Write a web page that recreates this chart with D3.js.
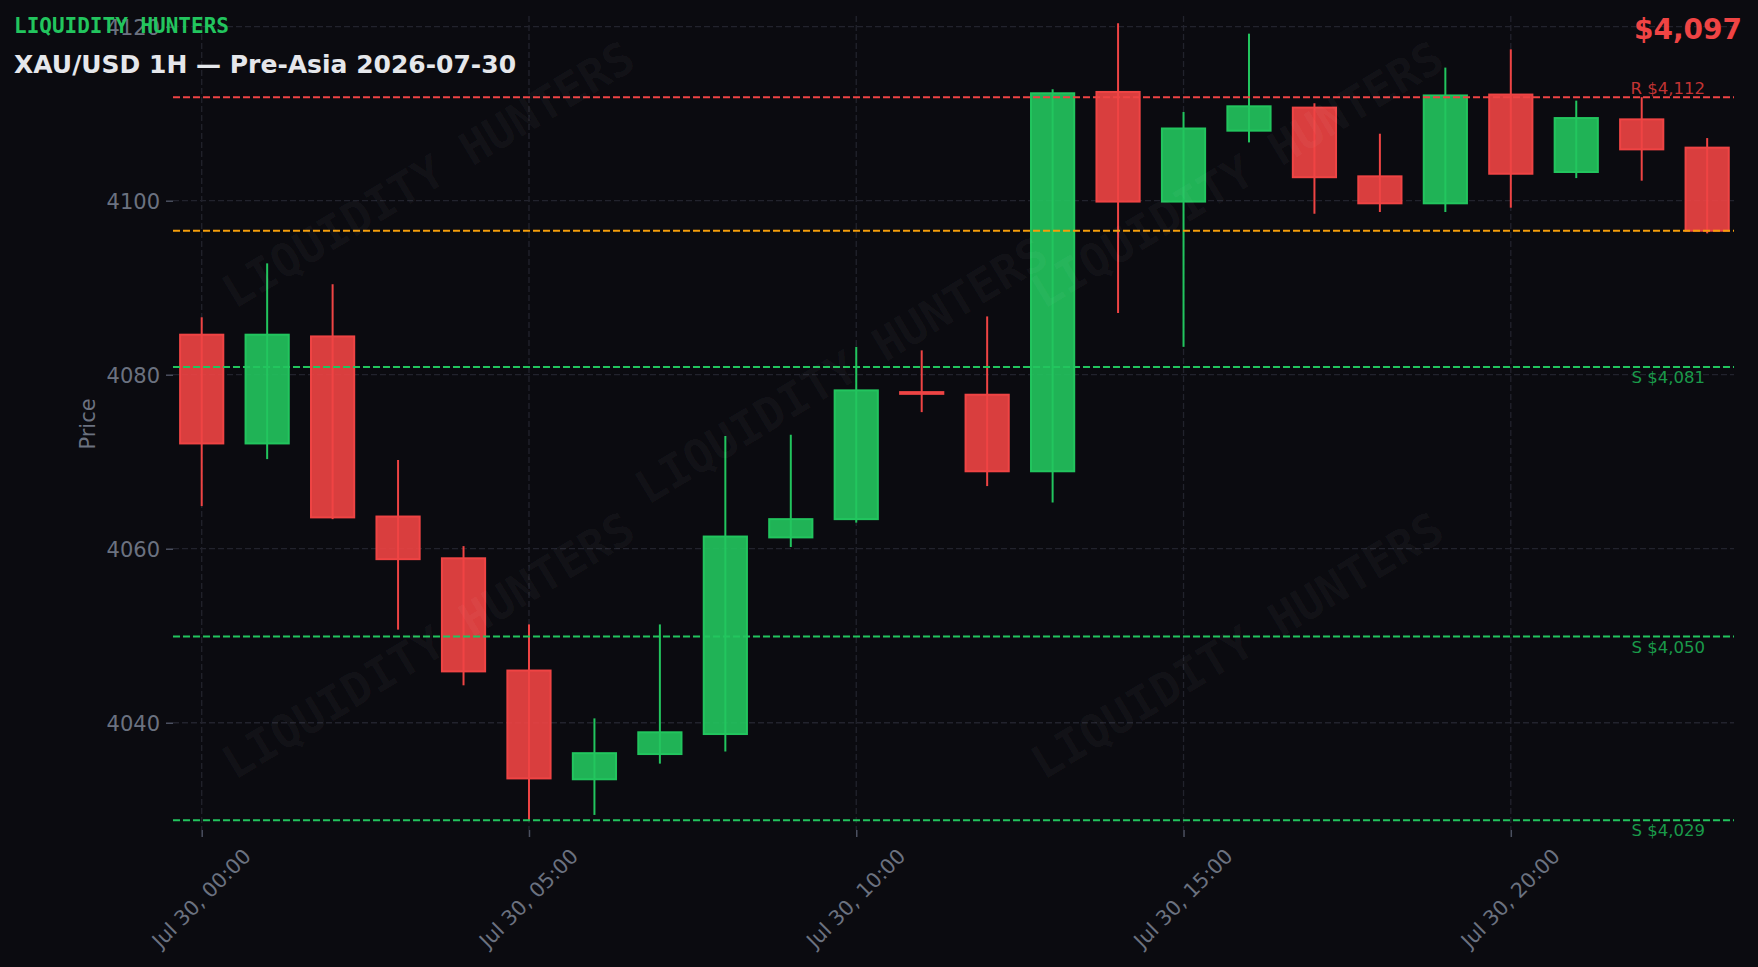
<!DOCTYPE html>
<html><head><meta charset="utf-8">
<script src="https://cdn.jsdelivr.net/npm/d3@7"></script>
<style>html,body{margin:0;padding:0;background:#0b0b10;overflow:hidden;} svg{display:block;}</style>
</head><body><svg id="c" width="1758" height="967"></svg>
<script>
// ---- data ----
const times = ["2026-07-30 00:00","2026-07-30 01:00","2026-07-30 02:00","2026-07-30 03:00","2026-07-30 04:00","2026-07-30 05:00",
  "2026-07-30 06:00","2026-07-30 07:00","2026-07-30 08:00","2026-07-30 09:00","2026-07-30 10:00","2026-07-30 11:00",
  "2026-07-30 12:00","2026-07-30 13:00","2026-07-30 14:00","2026-07-30 15:00","2026-07-30 16:00","2026-07-30 17:00",
  "2026-07-30 18:00","2026-07-30 19:00","2026-07-30 20:00","2026-07-30 21:00","2026-07-30 22:00","2026-07-30 23:00"];
const opens  = [4084.6,4072.1,4084.4,4063.7,4058.9,4046.0,4033.5,4036.4,4038.7,4061.3,4063.4,4078.0,4077.7,4068.9,4112.5,4099.9,4108.05,4110.7,4102.8,4099.7,4112.2,4103.3,4109.35,4106.1];
const highs  = [4086.6,4092.8,4090.4,4070.2,4060.3,4051.3,4040.5,4051.3,4072.95,4073.1,4083.2,4082.8,4086.7,4112.8,4120.4,4110.2,4119.2,4111.2,4107.7,4115.3,4117.4,4111.5,4111.9,4107.2];
const lows   = [4064.9,4070.3,4063.4,4050.7,4044.3,4028.7,4029.4,4035.3,4036.7,4060.2,4063.0,4075.7,4067.2,4065.3,4087.1,4083.2,4106.7,4098.5,4098.7,4098.7,4099.2,4102.6,4102.3,4096.25];
const closes = [4072.1,4084.6,4063.6,4058.8,4045.9,4033.6,4036.5,4038.9,4061.4,4063.4,4078.2,4077.8,4068.9,4112.35,4099.9,4108.3,4110.85,4102.7,4099.7,4112.1,4103.1,4109.5,4105.9,4096.55];
const yTickValues = [4040,4060,4080,4100,4120];
const xTickTimes = ["2026-07-30 00:00","2026-07-30 05:00","2026-07-30 10:00","2026-07-30 15:00","2026-07-30 20:00"];
const levelValues = [4111.9,4080.9,4049.9,4028.8];
const levelLabels = ["R $4,112","S $4,081","S $4,050","S $4,029"];
const levelKinds  = ["R","S","S","S"];
const currentPrice = 4096.55;
const currentLabel = "$4,097";
const titleText = "XAU/USD 1H \u2014 Pre-Asia 2026-07-30";
const brandText = "LIQUIDITY HUNTERS";
const yAxisTitle = "Price";

(function(){
// ---- setup ----
const parse = d3.timeParse("%Y-%m-%d %H:%M");
const H = 3600*1000;
const t0 = parse(times[0]);
const svg = d3.select("#c");
const pL = 173, pR = 1734, pT = 16, pB = 830;
const x = d3.scaleTime().domain([new Date(+t0 - 0.4385*H), new Date(+t0 + 23.41*H)]).range([pL, pR]);
const y = d3.scaleLinear().domain([4027.67, 4121.23]).range([pB, pT]);

const GREEN = "#22c55e", RED = "#ef4444", ORANGE = "#f59e0b", GRID = "#22232d", TICK = "#6b7280";

svg.append("rect").attr("width",1758).attr("height",967).attr("fill","#0b0b10");

// grid
const g = svg.append("g");
g.selectAll(".hg").data(yTickValues).join("line")
  .attr("x1",pL).attr("x2",pR).attr("y1",d=>y(d)).attr("y2",d=>y(d))
  .attr("stroke",GRID).attr("stroke-width",1.3).attr("stroke-dasharray","6,3");
g.selectAll(".vg").data(xTickTimes).join("line")
  .attr("x1",d=>x(parse(d))).attr("x2",d=>x(parse(d))).attr("y1",pT).attr("y2",pB)
  .attr("stroke",GRID).attr("stroke-width",1.3).attr("stroke-dasharray","6,3");

// axes
const yAxis = d3.axisLeft(y).tickValues(yTickValues).tickSize(7).tickPadding(6).tickFormat(d3.format("d"));
const ya = svg.append("g").attr("transform",`translate(${pL},0)`).call(yAxis);
ya.select(".domain").remove();
ya.selectAll(".tick line").attr("stroke","#4b5060").attr("stroke-width",1.5);
ya.selectAll(".tick text").attr("fill",TICK).attr("font-family","DejaVu Sans").attr("font-size",21).attr("dy","0.36em");

const xAxis = d3.axisBottom(x).tickValues(xTickTimes.map(parse)).tickSize(7).tickFormat(d3.timeFormat("%b %d, %H:%M"));
const xa = svg.append("g").attr("transform",`translate(0,${pB})`).call(xAxis);
xa.select(".domain").remove();
xa.selectAll(".tick line").attr("stroke","#4b5060").attr("stroke-width",1.5);
xa.selectAll(".tick text").attr("fill",TICK).attr("font-family","DejaVu Sans").attr("font-size",20.5)
  .attr("text-anchor","middle").attr("y",0).attr("dy","0.36em")
  .attr("transform","translate(-1,68) rotate(-45)");

svg.append("text").attr("transform","translate(95,424) rotate(-90)").attr("text-anchor","middle")
  .attr("fill",TICK).attr("font-family","DejaVu Sans").attr("font-size",21).text(yAxisTitle);

// candles
const data = times.map((t,i)=>({t:parse(t),o:opens[i],h:highs[i],l:lows[i],c:closes[i]}));
const bw = (x(new Date(+t0+H)) - x(t0)) * 0.66;
const cg = svg.append("g");
const cs = cg.selectAll("g").data(data).join("g");
cs.append("line").attr("x1",d=>x(d.t)).attr("x2",d=>x(d.t)).attr("y1",d=>y(d.h)).attr("y2",d=>y(d.l))
  .attr("stroke",d=>d.c>=d.o?GREEN:RED).attr("stroke-width",2);
cs.append("rect").attr("x",d=>x(d.t)-bw/2).attr("width",bw)
  .attr("y",d=>y(Math.max(d.o,d.c))).attr("height",d=>Math.max(0.5,Math.abs(y(d.o)-y(d.c))))
  .attr("fill",d=>d.c>=d.o?GREEN:RED).attr("fill-opacity",0.9)
  .attr("stroke",d=>d.c>=d.o?GREEN:RED).attr("stroke-width",2);

// level lines
const lv = levelValues.map((v,i)=>({v,label:levelLabels[i],kind:levelKinds[i]}));
svg.selectAll(".lvl").data(lv).join("line")
  .attr("x1",pL).attr("x2",pR).attr("y1",d=>y(d.v)).attr("y2",d=>y(d.v))
  .attr("stroke",d=>d.kind==="R"?RED:GREEN).attr("stroke-width",2).attr("stroke-dasharray","7,3");
svg.append("line").attr("x1",pL).attr("x2",pR).attr("y1",y(currentPrice)).attr("y2",y(currentPrice))
  .attr("stroke",ORANGE).attr("stroke-width",2).attr("stroke-dasharray","7,3");
svg.selectAll(".lvlt").data(lv).join("text")
  .attr("x",1705).attr("y",d=>d.kind==="R"?y(d.v)-3:y(d.v)+16)
  .attr("text-anchor","end").attr("font-family","DejaVu Sans").attr("font-size",16.5)
  .attr("fill",d=>d.kind==="R"?"#c23434":"#1a9a4a").text(d=>d.label);

// watermarks
const wm = [[428,174],[841,370],[1237,174],[428,645],[1237,645]];
svg.selectAll(".wm").data(wm).join("text")
  .attr("transform",d=>`translate(${d[0]},${d[1]}) rotate(-31)`)
  .attr("text-anchor","middle").attr("dy","0.36em")
  .attr("font-family","DejaVu Sans Mono").attr("font-weight","bold").attr("font-size",46)
  .attr("fill","#ffffff").attr("fill-opacity",0.038).text(brandText);

// headings
svg.append("text").attr("x",14).attr("y",33).attr("font-family","DejaVu Sans Mono").attr("font-weight","bold")
  .attr("font-size",21).attr("fill",GREEN).text(brandText);
svg.append("text").attr("x",14).attr("y",73).attr("font-family","DejaVu Sans").attr("font-weight","bold")
  .attr("font-size",25).attr("fill","#e5e7eb").text(titleText);
svg.append("text").attr("x",1742).attr("y",39).attr("text-anchor","end").attr("font-family","DejaVu Sans").attr("font-weight","bold")
  .attr("font-size",28).attr("fill",RED).text(currentLabel);
})();
</script></body></html>
